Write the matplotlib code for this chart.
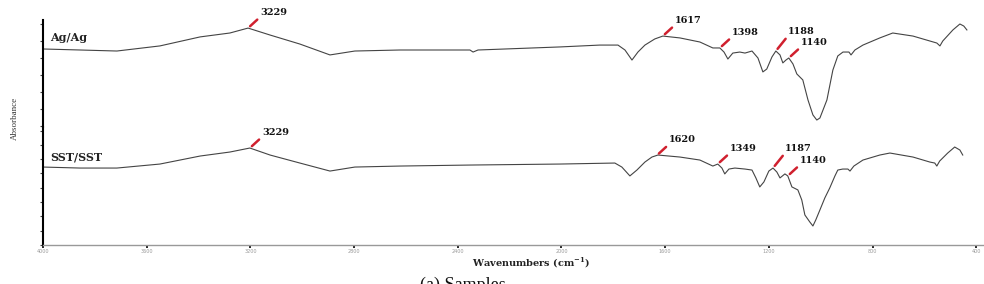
#!/usr/bin/env python3
"""FTIR absorbance spectra of the Ag/Ag and SST/SST samples, with peak labels."""
import matplotlib
matplotlib.use("Agg")
import matplotlib.pyplot as plt
import numpy as np

# Ag/Ag spectrum (upper panel)
ag_wn = [4000, 3857, 3715, 3549, 3394, 3279, 3209, 3124, 3009, 2893, 2797, 2623,
         2353, 2341, 2322, 2006, 1852, 1782, 1755, 1728, 1705, 1678, 1640, 1609,
         1543, 1466, 1416, 1389, 1373, 1358, 1339, 1312, 1292, 1265, 1242, 1223,
         1208, 1188, 1173, 1157, 1146, 1134, 1123, 1107, 1092, 1069, 1049, 1030,
         1015, 1003, 976, 953, 934, 914, 891, 883, 868, 837, 772, 722, 644, 579,
         552, 540, 529, 490, 463, 448, 436]
ag_abs = [0.453, 0.447, 0.441, 0.471, 0.524, 0.547, 0.576, 0.535, 0.482, 0.418,
          0.441, 0.447, 0.447, 0.435, 0.447, 0.465, 0.476, 0.476, 0.447, 0.388,
          0.435, 0.476, 0.512, 0.529, 0.518, 0.494, 0.459, 0.459, 0.435, 0.394,
          0.429, 0.435, 0.429, 0.441, 0.400, 0.318, 0.335, 0.406, 0.441, 0.418,
          0.371, 0.388, 0.400, 0.365, 0.306, 0.271, 0.153, 0.065, 0.035, 0.047,
          0.153, 0.329, 0.412, 0.435, 0.435, 0.418, 0.447, 0.476, 0.518, 0.547,
          0.529, 0.500, 0.488, 0.471, 0.500, 0.565, 0.600, 0.588, 0.565]

# SST/SST spectrum (lower panel)
sst_wn = [4000, 3857, 3715, 3549, 3394, 3279, 3202, 3124, 3009, 2893, 2797, 2623,
          2353, 2006, 1794, 1767, 1736, 1709, 1678, 1651, 1628, 1543, 1466, 1416,
          1397, 1381, 1370, 1354, 1331, 1292, 1265, 1250, 1235, 1219, 1200, 1184,
          1169, 1157, 1138, 1127, 1111, 1088, 1073, 1061, 1042, 1030, 1019, 1003,
          984, 965, 945, 934, 915, 895, 887, 872, 837, 772, 733, 644, 579, 560,
          552, 541, 510, 483, 463, 452]
sst_abs = [0.545, 0.538, 0.538, 0.566, 0.622, 0.650, 0.678, 0.629, 0.573, 0.517,
           0.545, 0.552, 0.559, 0.566, 0.573, 0.545, 0.483, 0.524, 0.580, 0.615,
           0.629, 0.615, 0.594, 0.552, 0.566, 0.538, 0.497, 0.531, 0.538, 0.531,
           0.524, 0.469, 0.406, 0.441, 0.517, 0.538, 0.510, 0.469, 0.497, 0.483,
           0.406, 0.385, 0.315, 0.210, 0.161, 0.133, 0.175, 0.245, 0.329, 0.399,
           0.483, 0.524, 0.531, 0.531, 0.517, 0.552, 0.594, 0.629, 0.643, 0.615,
           0.580, 0.573, 0.552, 0.587, 0.643, 0.685, 0.664, 0.629]

# peak labels: where the marker sits on the trace, and the printed value
ag_peak_pos = [3209, 1609, 1389, 1173, 1123]
ag_peak_txt = ["3229", "1617", "1398", "1188", "1140"]
sst_peak_pos = [3202, 1632, 1397, 1184, 1127]
sst_peak_txt = ["3229", "1620", "1349", "1187", "1140"]

xticks = [4000, 3600, 3200, 2800, 2400, 2000, 1600, 1200, 800, 400]

W, H = 984, 284
fig = plt.figure(figsize=(W / 100, H / 100), dpi=100)
left = 43 / W
ax_top = fig.add_axes([left, (H - 127) / H, 1 - left, 107 / H])
ax_bot = fig.add_axes([left, (H - 245) / H, 1 - left, 118 / H])

serif = "DejaVu Serif"
for ax, wn, ab, pos, txt, name, ylim in [
        (ax_top, ag_wn, ag_abs, ag_peak_pos, ag_peak_txt, "Ag/Ag", (-0.006, 0.6235)),
        (ax_bot, sst_wn, sst_abs, sst_peak_pos, sst_peak_txt, "SST/SST", (0, 0.825))]:
    ax.plot(wn, ab, color="#444444", lw=0.8)
    ax.set_xlim(4000, 370)
    ax.set_ylim(*ylim)
    ax.set_yticks(np.arange(0, ylim[1], 0.1))
    ax.set_yticklabels([])
    ax.tick_params(axis="y", length=2.5, width=0.8, color="#444")
    for s in ["top", "right"]:
        ax.spines[s].set_visible(False)
    ax.spines["left"].set_linewidth(1.5)
    ax.spines["left"].set_color("black")
    ax.patch.set_alpha(0)
    for i, (p, t) in enumerate(zip(pos, txt)):
        yv = np.interp(p, wn[::-1], ab[::-1])
        off = (12, 15) if i == 3 else (12, 11)   # keep the 1188/1140 pair apart
        ax.annotate(t, xy=(p, yv), xytext=off, textcoords="offset pixels",
                    ha="left", va="bottom", fontsize=7, fontweight="bold",
                    family=serif, color="#111",
                    arrowprops=dict(arrowstyle="-", color="#d0202e", lw=1.8,
                                    shrinkA=0, shrinkB=2, relpos=(0, 0)))
    ax.text(4000 - 7 * 3.857, ab[0] + (0.035 if name == "Ag/Ag" else 0.03), name,
            fontsize=8, fontweight="bold", family=serif, color="#222",
            ha="left", va="bottom")

ax_top.spines["bottom"].set_visible(False)
ax_top.set_xticks([])
ax_bot.set_xticks(xticks)
ax_bot.set_xticklabels([str(v) for v in xticks], fontsize=3.5, color="#999")
ax_bot.tick_params(axis="x", direction="out", length=2, width=1.2, color="black", pad=1)
ax_bot.spines["bottom"].set_color("#999")
ax_bot.spines["bottom"].set_linewidth(1.0)

fig.text(531 / W, (H - 263) / H, r"Wavenumbers (cm$^{\mathregular{-1}}$)",
         ha="center", va="center", fontsize=7, fontweight="bold", family=serif,
         color="#222")
fig.text(15 / W, (H - 118) / H, "Absorbance", rotation=90, ha="center", va="center",
         fontsize=6.5, family="Liberation Serif", color="#333")
fig.text(420 / W, (H - 277) / H, "(a) Samples", ha="left", va="top",
         fontsize=13, family="Liberation Serif", color="#111")

fig.savefig("out.png", dpi=100)
